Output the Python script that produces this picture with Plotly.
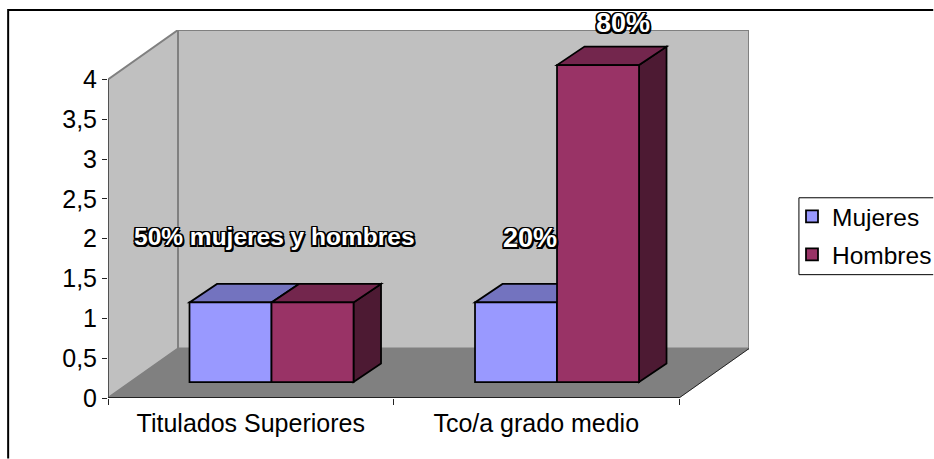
import plotly.graph_objects as go

categories = ["Titulados Superiores", "Tco/a grado medio"]
mujeres = [1, 1]
hombres = [1, 3.98]
y_ticks = [0, 0.5, 1, 1.5, 2, 2.5, 3, 3.5, 4]
y_tick_labels = ["0", "0,5", "1", "1,5", "2", "2,5", "3", "3,5", "4"]
label_texts = ["50% mujeres y hombres", "20%", "80%"]

# layout
W, H = 934, 459
L, R, T, B = 107.5, 749.5, 30, 398.5
PX_X = 285.5
PX_Y = 79.75
DX = 70 / PX_X
DY = 49.5 / PX_Y
BAR_W = 0.2873
BAR_BASE = 0.2
BAR_DX = 27.5 / PX_X
BAR_DY = 18.5 / PX_Y
OFF_M, OFF_H = -0.2145, 0.0727
cat_x = [i + 0.5 for i in range(len(categories))]
FONT = "Liberation Sans, Arial, sans-serif"

M_FRONT, M_TOP = "#9999FF", "#7373BF"
H_FRONT, H_TOP, H_SIDE = "#993366", "#73264D", "#4D1A33"
EDGE = 1.75


def poly(points, fill, line="#000000", width=EDGE):
    path = "M" + "L".join(f"{x},{y}" for x, y in points) + "Z"
    return dict(type="path", path=path, xref="x", yref="y", layer="below",
                fillcolor=fill, line=dict(color=line, width=width))


def seg(x0, y0, x1, y1, color, width):
    return dict(type="line", xref="x", yref="y", layer="below", x0=x0, y0=y0,
                x1=x1, y1=y1, line=dict(color=color, width=width))


n = len(categories)
shapes = [
    # back wall, side wall, floor
    poly([(DX, DY), (n + DX, DY), (n + DX, 4 + DY), (DX, 4 + DY)], "#C0C0C0", "#808080", 2),
    poly([(0, 0), (DX, DY), (DX, 4 + DY), (0, 4)], "#C0C0C0", "#808080", 2),
    poly([(0, 0), (n, 0), (n + DX, DY), (DX, DY)], "#808080", "#808080", 0.5),
    seg(0, 0, 0, 4, "#333333", 1.2),
    seg(0, 0, n, 0, "#222222", 1.8),
    seg(n, 0, n + DX, DY, "#222222", 1),
]

for cx, v in zip(cat_x, mujeres):
    x0 = cx + OFF_M
    x1 = x0 + BAR_W
    t = BAR_BASE + v
    shapes.append(poly([(x0, t), (x1, t), (x1 + BAR_DX, t + BAR_DY), (x0 + BAR_DX, t + BAR_DY)], M_TOP))
for cx, v in zip(cat_x, hombres):
    x0 = cx + OFF_H
    x1 = x0 + BAR_W
    t = BAR_BASE + v
    shapes.append(poly([(x1, BAR_BASE), (x1 + BAR_DX, BAR_BASE + BAR_DY), (x1 + BAR_DX, t + BAR_DY), (x1, t)], H_SIDE))
    shapes.append(poly([(x0, t), (x1, t), (x1 + BAR_DX, t + BAR_DY), (x0 + BAR_DX, t + BAR_DY)], H_TOP))


# pixel position on the page -> paper coordinates of the plot area
def px(x):
    return (x - L) / (R - L)


def py(y):
    return (B - y) / (B - T)


fig = go.Figure()
fig.add_bar(x=cat_x, y=mujeres, base=BAR_BASE, width=BAR_W, offset=OFF_M, name="Mujeres",
            marker=dict(color=M_FRONT, line=dict(color="#000000", width=EDGE)), legendgroup="m")
fig.add_bar(x=cat_x, y=hombres, base=BAR_BASE, width=BAR_W, offset=OFF_H, name="Hombres",
            marker=dict(color=H_FRONT, line=dict(color="#000000", width=EDGE)), legendgroup="h")

outline = ", ".join(f"{a}px {b}px 0 #000" for a in (-1.5, 0, 1.5) for b in (-1.5, 0, 1.5)) + ", 2px 2px 0 #000"
label_font = dict(family=FONT, size=24.5, color="#FFFFFF", weight="bold", shadow=outline)
big_font = dict(family=FONT, size=27, color="#FFFFFF", weight="bold", shadow=outline)
annotations = [
    dict(xref="x", yref="y", x=cat_x[0] + OFF_H + 0.012, y=2.03, text=label_texts[0], showarrow=False, font=label_font),
    dict(xref="x", yref="y", x=cat_x[1] + OFF_M + 0.192, y=2.01, text=label_texts[1], showarrow=False, font=big_font),
    dict(xref="x", yref="paper", x=cat_x[1] + OFF_H + 0.23, y=py(23), yanchor="middle", text=label_texts[2], showarrow=False, font=big_font),
]

frame = [
    dict(type="path", xref="paper", yref="paper", layer="below",
         path=f"M{px(7.5)},{py(459)}L{px(7.5)},{py(10)}L{px(934)},{py(10)}",
         line=dict(color="#000000", width=2)),
    dict(type="path", xref="paper", yref="paper", layer="below",
         path=f"M{px(934)},{py(198)}L{px(799.5)},{py(198)}L{px(799.5)},{py(275)}L{px(934)},{py(275)}",
         line=dict(color="#000000", width=1)),
]

fig.update_layout(
    width=W, height=H, autosize=False,
    margin=dict(l=L, r=W - R, t=T, b=H - B, pad=0),
    paper_bgcolor="#FFFFFF", plot_bgcolor="rgba(0,0,0,0)",
    barmode="overlay", separators=", ",
    font=dict(family=FONT, size=24, color="#000000"),
    showlegend=True,
    legend=dict(xref="container", yref="container", x=792 / W, xanchor="left",
                y=1 - 194 / H, yanchor="top",
                bgcolor="rgba(0,0,0,0)", borderwidth=0, traceorder="grouped",
                tracegroupgap=3, font=dict(size=24.5, family=FONT, color="#000000"),
                itemclick=False, itemdoubleclick=False),
    shapes=shapes + frame,
    annotations=annotations,
    xaxis=dict(range=[0, n + DX], tickmode="array", tickvals=cat_x, ticktext=categories,
               ticks="", showgrid=False, zeroline=False, showline=False,
               tickfont=dict(size=25), automargin=False, ticklabelstandoff=8,
               minor=dict(tickmode="array", tickvals=list(range(n + 1)), ticks="outside",
                          ticklen=6, tickwidth=1, tickcolor="#222222", showgrid=False)),
    yaxis=dict(range=[0, 4 + DY], tickmode="array", tickvals=y_ticks, ticktext=y_tick_labels,
               ticks="outside", ticklen=5, tickwidth=1, tickcolor="#222222",
               showgrid=False, zeroline=False, showline=False,
               tickfont=dict(size=25), automargin=False),
)

fig.write_html("out.html", config=dict(displayModeBar=False),
               post_script="document.body.style.margin='0';document.documentElement.style.overflow='hidden';")
